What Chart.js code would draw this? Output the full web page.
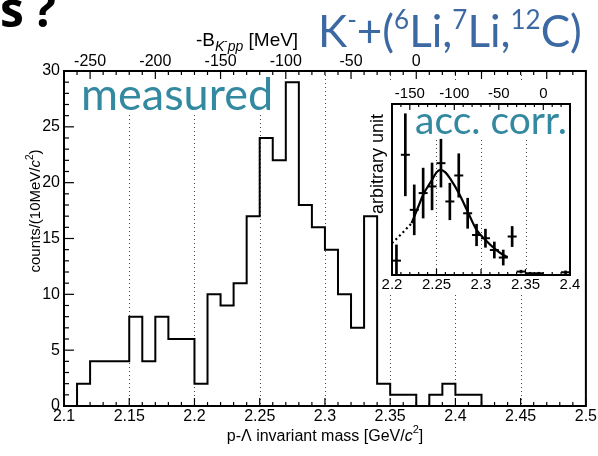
<!DOCTYPE html>
<html>
<head>
<meta charset="utf-8">
<script src="https://cdn.jsdelivr.net/npm/chart.js@4.4.1/dist/chart.umd.min.js"></script>
<style>
  html, body { margin: 0; padding: 0; background: #fff; }
  #wrap { position: relative; width: 598px; height: 456px; overflow: hidden; }
  #mainChart { position: absolute; left: 0; top: 0; }
  #insetChart { position: absolute; left: 366px; top: 82px; }
</style>
</head>
<body>
<div id="wrap">
  <canvas id="mainChart" width="598" height="456"></canvas>
  <canvas id="insetChart" width="218" height="212"></canvas>
</div>
<script>
// main histogram: bin edges in GeV/c^2 (last entry is the upper edge of the last bin)
const massEdges = [2.10, 2.11, 2.12, 2.13, 2.14, 2.15, 2.16, 2.17, 2.18, 2.19,
  2.20, 2.21, 2.22, 2.23, 2.24, 2.25, 2.26, 2.27, 2.28, 2.29,
  2.30, 2.31, 2.32, 2.33, 2.34, 2.35, 2.36, 2.37, 2.38, 2.39,
  2.40, 2.41, 2.42, 2.43, 2.44, 2.45, 2.46, 2.47, 2.48, 2.49, 2.50];
const counts = [0, 2, 4, 4, 4, 8, 4, 8, 6, 6,
  2, 10, 9, 11, 17, 24, 22, 29, 18, 16,
  14, 10, 7, 17, 2, 1, 1, 0, 1, 2,
  1, 1, 0, 0, 0, 0, 0, 0, 0, 0];
const massTicks = [2.1, 2.15, 2.2, 2.25, 2.3, 2.35, 2.4, 2.45, 2.5];
const countTicks = [0, 5, 10, 15, 20, 25, 30];
const bindingTicks = [-250, -200, -150, -100, -50, 0];

// inset: acceptance corrected spectrum (arbitrary unit)
const accMass = [2.205, 2.215, 2.225, 2.235, 2.245, 2.255, 2.265, 2.275, 2.285, 2.295,
  2.305, 2.315, 2.325, 2.335, 2.345, 2.355, 2.365, 2.395];
const accValue = [8.4, 70.3, 38.1, 47.9, 51.8, 65.4, 43.0, 58.2, 36.1, 23.4,
  21.5, 14.6, 10.2, 22.5, 2.0, 1.0, 1.0, 1.6];
const accError = [9.2, 24.0, 14.6, 14.6, 13.7, 14.0, 10.7, 12.7, 8.8, 6.3,
  5.3, 4.7, 4.4, 5.9, 0.8, 0.6, 0.6, 0.8];
const fitMass = [2.222, 2.230, 2.235, 2.245, 2.250, 2.2545, 2.260, 2.265, 2.275, 2.285,
  2.295, 2.305, 2.315, 2.325, 2.330];
const fitValue = [30.3, 40.5, 46.9, 55.7, 60.0, 61.5, 60.0, 56.6, 47.9, 37.1,
  26.4, 20.5, 15.6, 11.7, 10.5];
const extMass = [2.200, 2.211, 2.222];
const extValue = [18.6, 24.2, 30.3];
const insetMassTicks = [2.2, 2.25, 2.3, 2.35, 2.4];
const insetBindingTicks = [-150, -100, -50, 0];

const threshold = 2.370; // K- p p threshold, GeV/c^2
const rootFont = 'Liberation Sans';
const teal = '#3389a0';
const blue = '#3c69a3';

Chart.defaults.font.family = rootFont;
Chart.defaults.color = '#000';

function fmtMass(v) {
  return String(parseFloat(Number(v).toFixed(2)));
}

// draws a list of [text, font, dy] pieces one after another
function richText(ctx, parts, x, y, align) {
  let w = 0;
  parts.forEach(p => { ctx.font = p[1]; w += ctx.measureText(p[0]).width; });
  let cx = align === 'center' ? x - w / 2 : x;
  ctx.textAlign = 'left';
  ctx.textBaseline = 'alphabetic';
  parts.forEach(p => {
    ctx.font = p[1];
    ctx.fillText(p[0], cx, y + (p[2] || 0));
    cx += ctx.measureText(p[0]).width;
  });
}

// inward tick marks along a horizontal edge
function hTicks(ctx, scale, from, to, step, majorEvery, yEdge, dir, major, minor) {
  const n = Math.round((to - from) / step);
  for (let i = 0; i <= n; i++) {
    const v = from + i * step;
    const x = scale.getPixelForValue(v);
    const len = (Math.round(v / step) % majorEvery === 0) ? major : minor;
    ctx.beginPath();
    ctx.moveTo(x, yEdge);
    ctx.lineTo(x, yEdge + dir * len);
    ctx.stroke();
  }
}

function dottedLines(ctx, scale, values, area) {
  ctx.save();
  ctx.strokeStyle = '#444';
  ctx.lineWidth = 1;
  ctx.setLineDash([1, 3]);
  values.forEach(v => {
    const x = Math.round(scale.getPixelForValue(v)) + 0.5;
    ctx.beginPath();
    ctx.moveTo(x, area.top);
    ctx.lineTo(x, area.bottom);
    ctx.stroke();
  });
  ctx.restore();
}

const noGrid = { display: false, drawTicks: false };

// ---------- main chart ----------
const mainDecor = {
  id: 'mainDecor',
  beforeDatasetsDraw(chart) {
    const { ctx, chartArea: a, scales } = chart;
    dottedLines(ctx, scales.x, massTicks.slice(1, -1), a);
    ctx.fillStyle = '#fff';
    ctx.fillRect(72, 73, 205, 42);
  },
  afterDatasetsDraw(chart) {
    const { ctx, chartArea: a, scales } = chart;
    ctx.save();
    ctx.strokeStyle = '#000';
    ctx.lineWidth = 2;
    ctx.strokeRect(a.left, a.top, a.right - a.left, a.bottom - a.top);
    ctx.lineWidth = 1.2;
    hTicks(ctx, scales.x, 2.10, 2.50, 0.01, 5, a.bottom, -1, 8, 4);
    hTicks(ctx, scales.xTop, -270, 130, 10, 5, a.top, 1, 8, 4);
    for (let c = 0; c <= 30; c++) {
      const y = scales.y.getPixelForValue(c);
      ctx.beginPath();
      ctx.moveTo(a.left, y);
      ctx.lineTo(a.left + (c % 5 === 0 ? 10 : 5), y);
      ctx.stroke();
    }

    ctx.fillStyle = '#000';
    // axis titles
    richText(ctx, [['p-\u039b invariant mass [GeV/', `16px "${rootFont}"`],
      ['c', `italic 16px "${rootFont}"`], ['2', `11px "${rootFont}"`, -8],
      [']', `16px "${rootFont}"`]], 325, 441, 'center');
    ctx.save();
    ctx.translate(40, 211);
    ctx.rotate(-Math.PI / 2);
    richText(ctx, [['counts/(10MeV/', `15px "${rootFont}"`],
      ['c', `italic 15px "${rootFont}"`], ['2', `10px "${rootFont}"`, -7],
      [')', `15px "${rootFont}"`]], 0, 0, 'center');
    ctx.restore();
    richText(ctx, [['-B', `19px "${rootFont}"`], ['K', `italic 14px "${rootFont}"`, 5],
      ['-', `10px "${rootFont}"`, -2], ['pp', `italic 14px "${rootFont}"`, 5],
      [' [MeV]', `19px "${rootFont}"`]], 196, 46, 'left');

    // slide annotations
    ctx.fillStyle = '#000';
    ctx.font = 'bold 48px "Open Sans"';
    ctx.fillText('s', 0, 27);
    ctx.fillText('?', 33, 27);
    ctx.fillStyle = blue;
    richText(ctx, [['K', '44px Lato'], ['-', '26px Lato', -18], ['+(', '44px Lato'],
      ['6', '26px Lato', -18], ['Li,', '44px Lato'], ['7', '26px Lato', -18],
      ['Li,', '44px Lato'], ['12', '26px Lato', -18], ['C)', '44px Lato']], 318, 47, 'left');
    ctx.fillStyle = teal;
    ctx.font = '45px Lato';
    ctx.fillText('measured', 81, 110);
    ctx.restore();
  }
};

new Chart(document.getElementById('mainChart'), {
  type: 'line',
  data: {
    datasets: [{
      label: 'measured',
      data: massEdges.map((m, i) => ({ x: m, y: counts[Math.min(i, counts.length - 1)] })),
      stepped: 'before',
      borderColor: '#000',
      borderWidth: 2,
      borderJoinStyle: 'miter',
      pointRadius: 0,
      fill: false
    }]
  },
  options: {
    responsive: false,
    animation: false,
    layout: { padding: { left: 0, right: 12, top: 0, bottom: 0 } },
    plugins: { legend: { display: false }, tooltip: { enabled: false } },
    scales: {
      x: {
        type: 'linear', position: 'bottom', min: 2.1, max: 2.5,
        afterBuildTicks: s => { s.ticks = massTicks.map(v => ({ value: v })); },
        afterFit: s => { s.height = 50; },
        grid: noGrid, border: { display: false },
        ticks: { padding: 1, autoSkip: false, maxRotation: 0, font: { size: 16 }, callback: fmtMass }
      },
      xTop: {
        axis: 'x', type: 'linear', position: 'top',
        min: (2.1 - threshold) * 1000, max: (2.5 - threshold) * 1000,
        afterBuildTicks: s => { s.ticks = bindingTicks.map(v => ({ value: v })); },
        afterFit: s => { s.height = 71; },
        grid: noGrid, border: { display: false },
        ticks: { padding: 0, autoSkip: false, maxRotation: 0, font: { size: 16 } }
      },
      y: {
        min: 0, max: 30,
        afterBuildTicks: s => { s.ticks = countTicks.map(v => ({ value: v })); },
        afterFit: s => { s.width = 64; },
        grid: noGrid, border: { display: false },
        ticks: { padding: 4, font: { size: 16 } }
      }
    }
  },
  plugins: [mainDecor]
});

// ---------- inset ----------
const insetDecor = {
  id: 'insetDecor',
  beforeDraw(chart) {
    const { ctx, width, height } = chart;
    ctx.save();
    ctx.fillStyle = '#fff';
    ctx.fillRect(13, 0, width - 13, height);
    ctx.restore();
  },
  beforeDatasetsDraw(chart) {
    const { ctx, chartArea: a, scales } = chart;
    dottedLines(ctx, scales.x, insetMassTicks.slice(1, -1), a);
    ctx.save();
    ctx.fillStyle = '#fff';
    ctx.fillRect(46, a.top + 2, a.right - 47, 34);
    ctx.restore();
  },
  afterDatasetsDraw(chart) {
    const { ctx, chartArea: a, scales } = chart;
    ctx.save();
    ctx.strokeStyle = '#000';
    ctx.lineWidth = 2;
    ctx.strokeRect(a.left, a.top, a.right - a.left, a.bottom - a.top);
    ctx.lineWidth = 1.2;
    hTicks(ctx, scales.x, 2.20, 2.40, 0.01, 5, a.bottom, -1, 6, 3);
    hTicks(ctx, scales.xTop, -170, 30, 10, 5, a.top, 1, 6, 3);

    ctx.fillStyle = teal;
    ctx.font = '39px Lato';
    ctx.textAlign = 'left';
    ctx.textBaseline = 'alphabetic';
    ctx.fillText('acc. corr.', 49, 52);

    ctx.fillStyle = '#000';
    ctx.save();
    ctx.translate(17, 82);
    ctx.rotate(-Math.PI / 2);
    richText(ctx, [['arbitrary unit', `18px "${rootFont}"`]], 0, 0, 'center');
    ctx.restore();
    ctx.restore();
  }
};

new Chart(document.getElementById('insetChart'), {
  data: {
    datasets: [
      {
        type: 'line', label: 'fit',
        data: fitMass.map((m, i) => ({ x: m, y: fitValue[i] })),
        borderColor: '#000', borderWidth: 2.2, pointRadius: 0,
        cubicInterpolationMode: 'monotone', fill: false
      },
      {
        type: 'line', label: 'fit extension',
        data: extMass.map((m, i) => ({ x: m, y: extValue[i] })),
        borderColor: '#000', borderWidth: 2.2, borderDash: [2, 3], pointRadius: 0,
        cubicInterpolationMode: 'monotone', fill: false
      },
      {
        type: 'bar', label: 'errors',
        data: accMass.map((m, i) => ({ x: m, y: [Math.max(0, accValue[i] - accError[i]), accValue[i] + accError[i]] })),
        backgroundColor: '#000', barThickness: 2, grouped: false
      },
      {
        type: 'scatter', label: 'acc. corr.',
        data: accMass.map((m, i) => ({ x: m, y: accValue[i] })),
        pointStyle: 'line', pointRadius: 4.5, borderWidth: 2, borderColor: '#000'
      }
    ]
  },
  options: {
    responsive: false,
    animation: false,
    layout: { padding: { left: 26, right: 14, top: 0, bottom: 0 } },
    plugins: { legend: { display: false }, tooltip: { enabled: false } },
    scales: {
      x: {
        type: 'linear', position: 'bottom', min: 2.2, max: 2.4, offset: false,
        afterBuildTicks: s => { s.ticks = insetMassTicks.map(v => ({ value: v })); },
        afterFit: s => { s.height = 19; },
        grid: noGrid, border: { display: false },
        ticks: { padding: 1, autoSkip: false, maxRotation: 0, font: { size: 15 }, callback: fmtMass }
      },
      xTop: {
        axis: 'x', type: 'linear', position: 'top',
        min: (2.2 - threshold) * 1000, max: (2.4 - threshold) * 1000,
        afterBuildTicks: s => { s.ticks = insetBindingTicks.map(v => ({ value: v })); },
        afterFit: s => { s.height = 22; },
        grid: noGrid, border: { display: false },
        ticks: { padding: 1, autoSkip: false, maxRotation: 0, font: { size: 15 } }
      },
      y: { display: false, min: 0, max: 100 }
    }
  },
  plugins: [insetDecor]
});
</script>
</body>
</html>
